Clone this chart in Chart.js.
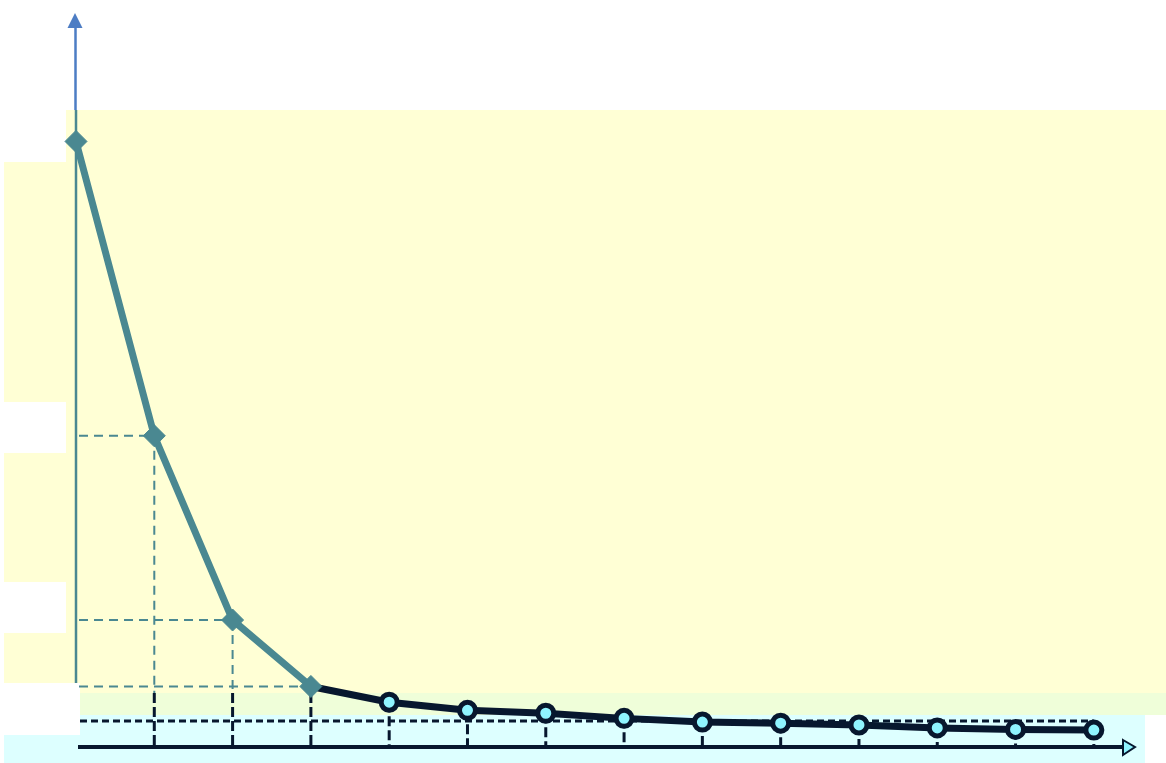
<!DOCTYPE html>
<html>
<head>
<meta charset="utf-8">
<script src="https://cdn.jsdelivr.net/npm/chart.js@4.4.0/dist/chart.umd.min.js"></script>
<style>
  html, body { margin: 0; padding: 0; background: #ffffff; }
  #wrap { width: 1166px; height: 763px; }
</style>
</head>
<body>
<div id="wrap"><canvas id="c" width="1166" height="763"></canvas></div>
<script>
// ---- data ----
const xValues = [0, 1, 2, 3, 4, 5, 6, 7, 8, 9, 10, 11, 12, 13];
const yValues = [82.5, 42.4, 17.3, 8.25, 6.1, 5.0, 4.6, 3.9, 3.4, 3.25, 3.0, 2.6, 2.4, 2.3];
const guideIndices = [1, 2, 3];
const xMin = 0, xMax = 13.5, yMin = 0, yMax = 100;

const TEAL = '#4a8891';
const NAVY = '#07172e';
const BLUE = '#4d7dc4';
const CYAN = '#8ff4ff';

const points = xValues.map((x, i) => ({ x: x, y: yValues[i] }));

const bgPlugin = {
  id: 'bg',
  beforeDraw(chart) {
    const ctx = chart.ctx;
    ctx.save();
    ctx.fillStyle = '#ffffff';
    ctx.fillRect(0, 0, 1166, 763);
    const Y = '#ffffd5', G = '#effed9', C = '#ddffff';
    ctx.fillStyle = Y;
    ctx.fillRect(66, 110, 1100, 573);
    ctx.fillRect(4, 162, 62, 240);
    ctx.fillRect(4, 453, 62, 129);
    ctx.fillRect(4, 633, 62, 50);
    ctx.fillRect(80, 683, 1086, 10);
    ctx.fillStyle = G;
    ctx.fillRect(80, 693, 1086, 22);
    ctx.fillStyle = C;
    ctx.fillRect(80, 715, 1065, 48);
    ctx.fillRect(4, 735, 76, 28);
    ctx.restore();
  }
};

const guidePlugin = {
  id: 'guides',
  beforeDatasetsDraw(chart) {
    const ctx = chart.ctx;
    const xs = chart.scales.x, ys = chart.scales.y;
    const x0 = xs.getPixelForValue(0);
    const y0 = ys.getPixelForValue(0);
    const bandTop = 693;
    ctx.save();
    // horizontal glitch dashed line
    ctx.strokeStyle = NAVY;
    ctx.lineWidth = 3;
    ctx.setLineDash([7, 4]);
    ctx.beginPath();
    ctx.moveTo(x0 + 4, 721);
    ctx.lineTo(xs.getPixelForValue(xValues[xValues.length - 1]), 721);
    ctx.stroke();

    // horizontal teal dashed guides to the y axis
    ctx.lineWidth = 2;
    ctx.setLineDash([9, 6]);
    guideIndices.forEach(i => {
      const px = xs.getPixelForValue(xValues[i]);
      const py = ys.getPixelForValue(yValues[i]);
      ctx.strokeStyle = TEAL;
      ctx.beginPath();
      ctx.moveTo(x0 + 3, py);
      ctx.lineTo(px, py);
      ctx.stroke();
    });

    // vertical drops from each point to the x axis
    xValues.forEach((xv, i) => {
      if (i === 0) return;
      const px = xs.getPixelForValue(xv);
      const py = ys.getPixelForValue(yValues[i]);
      if (py < bandTop) {
        ctx.strokeStyle = TEAL;
        ctx.lineWidth = 2;
        ctx.setLineDash([9, 6]);
        ctx.beginPath();
        ctx.moveTo(px, py);
        ctx.lineTo(px, bandTop);
        ctx.stroke();
      }
      ctx.strokeStyle = NAVY;
      ctx.lineWidth = 3;
      ctx.setLineDash([10, 4]);
      ctx.beginPath();
      ctx.moveTo(px, Math.max(py, bandTop));
      ctx.lineTo(px, y0);
      ctx.stroke();
    });
    ctx.setLineDash([]);

    // y axis
    const yTop = ys.getPixelForValue(yMax);
    ctx.lineWidth = 2.5;
    ctx.strokeStyle = TEAL;
    ctx.beginPath();
    ctx.moveTo(x0, 683);
    ctx.lineTo(x0, 110);
    ctx.stroke();
    ctx.strokeStyle = BLUE;
    ctx.beginPath();
    ctx.moveTo(x0 - 0.5, 110);
    ctx.lineTo(x0 - 0.5, yTop + 12);
    ctx.stroke();
    ctx.fillStyle = BLUE;
    ctx.beginPath();
    ctx.moveTo(x0 - 1, yTop);
    ctx.lineTo(x0 - 8.5, yTop + 15);
    ctx.lineTo(x0 + 6.5, yTop + 15);
    ctx.closePath();
    ctx.fill();

    // x axis
    const xEnd = xs.getPixelForValue(xMax);
    ctx.strokeStyle = NAVY;
    ctx.lineWidth = 4;
    ctx.beginPath();
    ctx.moveTo(x0 + 2, y0);
    ctx.lineTo(xEnd - 8, y0);
    ctx.stroke();
    ctx.fillStyle = CYAN;
    ctx.strokeStyle = NAVY;
    ctx.lineWidth = 2;
    ctx.beginPath();
    ctx.moveTo(xEnd - 10, y0 - 7);
    ctx.lineTo(xEnd + 2, y0);
    ctx.lineTo(xEnd - 10, y0 + 8);
    ctx.closePath();
    ctx.fill();
    ctx.stroke();
    ctx.restore();
  }
};

new Chart(document.getElementById('c'), {
  type: 'line',
  data: {
    datasets: [{
      data: points,
      borderWidth: 7,
      borderColor: TEAL,
      segment: {
        borderColor: c => (c.p0DataIndex >= 3 ? NAVY : TEAL)
      },
      pointStyle: xValues.map((v, i) => (i <= 3 ? 'rectRot' : 'circle')),
      pointRadius: xValues.map((v, i) => (i <= 3 ? 11 : 8)),
      pointBackgroundColor: xValues.map((v, i) => (i <= 3 ? TEAL : CYAN)),
      pointBorderColor: xValues.map((v, i) => (i <= 3 ? TEAL : NAVY)),
      pointBorderWidth: xValues.map((v, i) => (i <= 3 ? 1 : 5)),
      tension: 0,
      clip: false
    }]
  },
  options: {
    responsive: false,
    animation: false,
    devicePixelRatio: 1,
    layout: { padding: { left: 76, right: 33, top: 8, bottom: 16 } },
    plugins: { legend: { display: false }, tooltip: { enabled: false } },
    scales: {
      x: { type: 'linear', min: xMin, max: xMax, display: false },
      y: { type: 'linear', min: yMin, max: yMax, display: false }
    }
  },
  plugins: [bgPlugin, guidePlugin]
});
</script>
</body>
</html>
